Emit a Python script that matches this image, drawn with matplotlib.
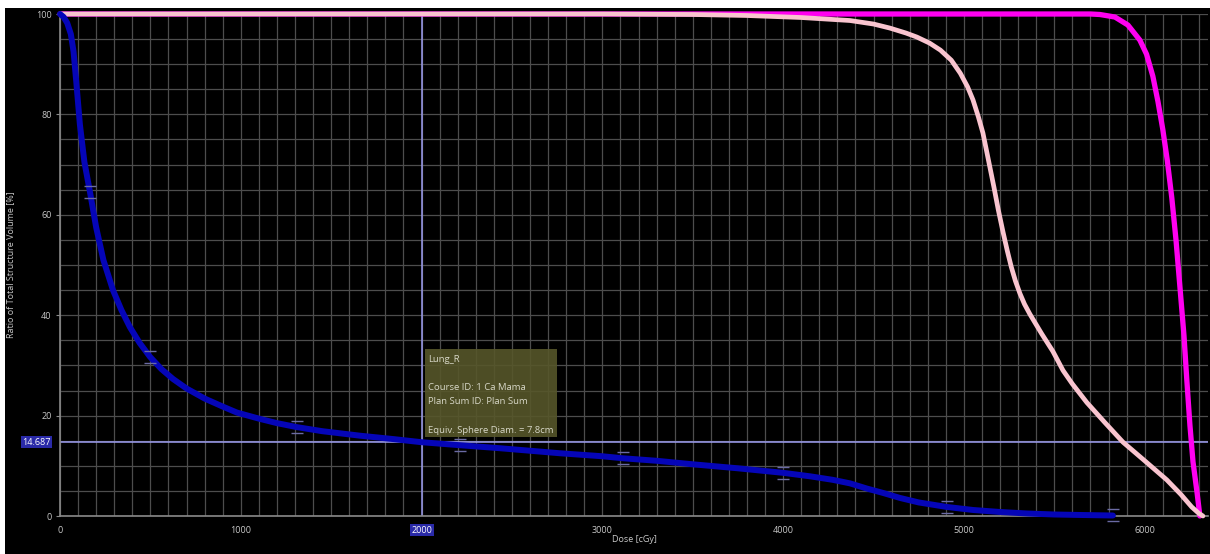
import numpy as np
import matplotlib
matplotlib.use("Agg")
import matplotlib.pyplot as plt
from matplotlib.patches import Rectangle
from matplotlib.path import Path
from matplotlib.transforms import blended_transform_factory

# ---------------- data ----------------
blue_dose = [0, 20, 40, 60, 75, 90, 110, 135, 166, 200, 240, 293, 340, 387, 440, 498,
             560, 625, 700, 800, 900, 979, 1100, 1200, 1311, 1450, 1659, 1850, 2000,
             2212, 2434, 2600, 2765, 3000, 3114, 3300, 3500, 3750, 4000, 4150, 4275,
             4370, 4460, 4552, 4646, 4750, 4906, 5050, 5199, 5350, 5500, 5650, 5824]
blue_vol = [100, 99.4, 98.2, 96.0, 92.5, 86.5, 78.0, 70.5, 64.5, 57.5, 51.0, 45.0, 41.0,
            37.6, 34.5, 31.7, 29.3, 27.3, 25.4, 23.4, 21.8, 20.6, 19.4, 18.5, 17.7, 16.9,
            16.0, 15.3, 14.7, 14.1, 13.5, 13.0, 12.5, 11.9, 11.5, 11.0, 10.3, 9.5, 8.6,
            7.9, 7.2, 6.5, 5.5, 4.6, 3.6, 2.7, 1.8, 1.2, 0.8, 0.5, 0.3, 0.2, 0.1]
blue_marker_doses = [166, 498, 1311, 2212, 3114, 4000, 4906, 5824]

pink_dose = [0, 3000, 3500, 3800, 4100, 4370, 4500, 4590, 4680, 4740, 4810, 4870, 4930,
             4980, 5020, 5050, 5080, 5105, 5135, 5166, 5190, 5216, 5240, 5262, 5285,
             5310, 5335, 5365, 5430, 5492, 5548, 5600, 5680, 5780, 5880, 6000, 6122,
             6200, 6260, 6300, 6322]
pink_vol = [100, 100, 99.9, 99.7, 99.3, 98.7, 98.0, 97.2, 96.2, 95.4, 94.2, 92.8, 90.8,
            88.2, 85.5, 82.9, 79.5, 76.3, 71.0, 65.5, 61.0, 56.6, 52.8, 49.6, 46.8,
            44.3, 42.2, 40.2, 36.3, 32.8, 29.0, 26.3, 22.6, 18.6, 14.7, 11.0, 7.2, 4.3,
            1.8, 0.5, 0.0]

magenta_dose = [0, 5700, 5752, 5835, 5907, 5973, 6010, 6045, 6073, 6100, 6125, 6150,
                6173, 6195, 6217, 6233, 6250, 6267, 6289, 6305]
magenta_vol = [100, 100, 99.9, 99.4, 97.8, 94.8, 92.0, 87.6, 82.6, 77.0, 70.8, 63.3,
               55.0, 45.5, 36.0, 27.0, 18.1, 10.8, 4.8, 0.0]

cursor_dose = 2000
cursor_vol = 14.687
x_ticks = [0, 1000, 2000, 3000, 4000, 5000, 6000]
y_ticks = [0, 20, 40, 60, 80, 100]
tooltip_lines = ["Lung_R", "", "Course ID: 1 Ca Mama", "Plan Sum ID: Plan Sum", "",
                 "Equiv. Sphere Diam. = 7.8cm"]

# ---------------- figure ----------------
plt.rcParams['font.family'] = ['Open Sans', 'DejaVu Sans']
W, H = 1210, 554
fig = plt.figure(figsize=(W / 100, H / 100), dpi=100, facecolor='white')
fig.add_artist(Rectangle((5 / W, 0), 1 - 5 / W, (H - 8) / H, transform=fig.transFigure,
                         facecolor='black', edgecolor='none', zorder=-10))

ax = fig.add_axes([60 / W, (H - 516) / H, (1208 - 60) / W, (516 - 14) / H])
ax.set_facecolor('black')
ax.set_xlim(0, 6350)
ax.set_ylim(0, 100)

ax.set_xticks(x_ticks)
ax.set_yticks(y_ticks)
ax.set_xticks(np.arange(0, 6351, 100), minor=True)
ax.set_yticks(np.arange(0, 101, 5), minor=True)
ax.grid(which='both', color='#4d4d4d', linewidth=0.9)
ax.set_axisbelow(True)

for s in ['top', 'right']:
    ax.spines[s].set_visible(False)
for s in ['left', 'bottom']:
    ax.spines[s].set_color('#8a8a8a')
    ax.spines[s].set_linewidth(1.2)

ax.tick_params(axis='x', which='both', length=0, pad=7, labelsize=6.5, labelcolor='#c8c8c8')
ax.tick_params(axis='y', which='major', length=3, width=0.8, color='#8a8a8a', pad=3,
               labelsize=6.5, labelcolor='#c8c8c8')
ax.tick_params(axis='y', which='minor', length=0)

for lab in ax.get_xticklabels():
    if lab.get_text() == str(cursor_dose):
        lab.set_color('white')
        lab.set_bbox(dict(facecolor='#2a2aa8', edgecolor='none', pad=1.2))

ax.set_xlabel('Dose [cGy]', fontsize=6.5, color='#c8c8c8', labelpad=0)
ax.xaxis.set_label_coords(0.5, -0.037)
ax.set_ylabel('Ratio of Total Structure Volume [%]', fontsize=6.5, color='#c8c8c8')
ax.yaxis.set_label_coords(-0.039, 0.5)

# cursor crosshair
ax.axhline(cursor_vol, color='#9c9cf0', linewidth=1.1, zorder=2)
ax.axvline(cursor_dose, color='#9c9cf0', linewidth=1.1, zorder=2)
trans = blended_transform_factory(ax.transAxes, ax.transData)
ax.text(-0.008, cursor_vol, f'{cursor_vol:g}', transform=trans, ha='right', va='center',
        fontsize=6.5, color='white',
        bbox=dict(facecolor='#2a2aa8', edgecolor='none', pad=1.2))

# curves
ax.plot(magenta_dose, magenta_vol, color='#ff00f0', linewidth=3.8, solid_capstyle='round',
        solid_joinstyle='round', clip_on=False, zorder=3)
ax.plot(pink_dose, pink_vol, color='#f9c4cf', linewidth=3.4, solid_capstyle='round',
        solid_joinstyle='round', clip_on=False, zorder=4)
ax.plot(blue_dose, blue_vol, color='#0505b8', linewidth=4.3, solid_capstyle='round',
        solid_joinstyle='round', clip_on=False, zorder=5)

mk_path = Path([(-1, -1), (1, -1), (-1, 1), (1, 1)],
               [Path.MOVETO, Path.LINETO, Path.MOVETO, Path.LINETO])
mk_idx = [blue_dose.index(d) for d in blue_marker_doses]
ax.plot(blue_dose, blue_vol, linestyle='none', marker=mk_path, markevery=mk_idx,
        markersize=8, markeredgewidth=1.0, markeredgecolor='#6a6aa4', clip_on=False,
        zorder=6)

# tooltip
ax.add_patch(Rectangle((2020, 15.7), 730, 17.6, facecolor='#56562a', edgecolor='none',
                       alpha=0.9, zorder=7))
ax.text(2035, 32.1, "\n".join(tooltip_lines), ha='left', va='top', fontsize=6.8,
        color='#d8d8c8', linespacing=1.74, zorder=8)

fig.savefig('out.png', dpi=100, facecolor=fig.get_facecolor())
